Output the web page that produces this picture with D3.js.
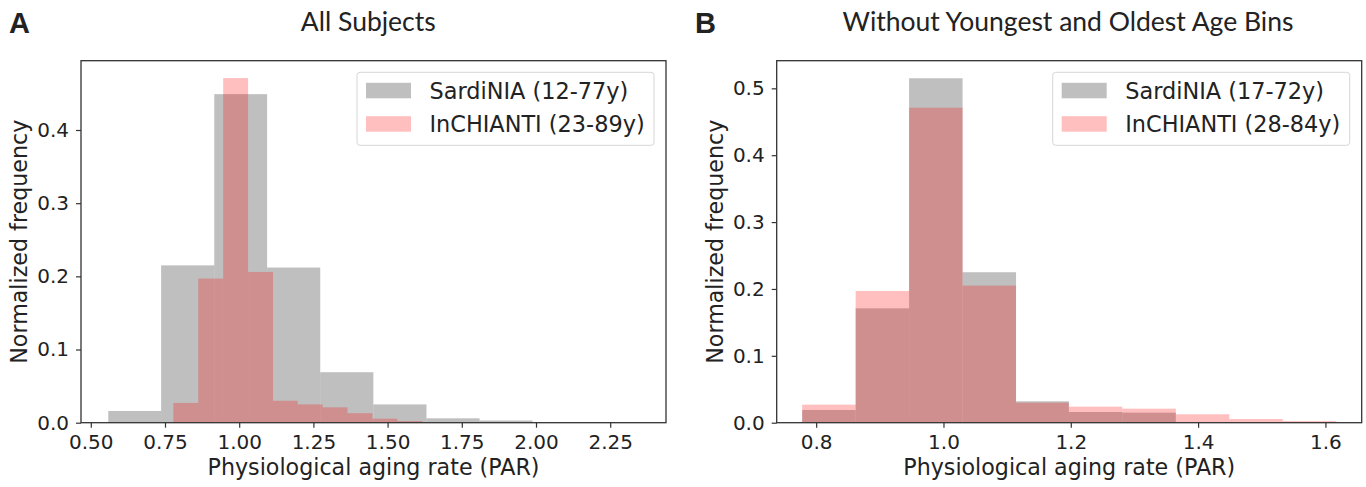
<!DOCTYPE html>
<html>
<head>
<meta charset="utf-8">
<script src="https://cdn.jsdelivr.net/npm/d3@7"></script>
<style>
  body { margin: 0; background: #fff; }
  svg text { font-family: "DejaVu Sans", sans-serif; fill: #222; }
  .tick line { stroke: #333; stroke-width: 1.2; }
  .tick text { font-size: 20px; }
  .axisText { font-size: 22.2px; }
  .legendText { font-size: 22.4px; }
  .title { font-family: Lato, sans-serif; font-size: 26.5px; }
  .panelLetter { font-family: "Liberation Sans", sans-serif; font-weight: bold; font-size: 29px; }
</style>
</head>
<body>
<div id="chart"></div>
<script>
var svgWidth = 1366;
var svgHeight = 487;

// bin edges
var sardEdgesA = [0.559, 0.737, 0.916, 1.094, 1.273, 1.452, 1.631, 1.810, 1.988, 2.167, 2.346];
var inchEdges = [0.778, 0.862, 0.946, 1.030, 1.114, 1.197, 1.281, 1.365, 1.449, 1.533, 1.617];

// normalized frequencies
var sardA = [0.016, 0.215, 0.449, 0.212, 0.069, 0.025, 0.006, 0.003, 0.0008, 0.0005];
var inchA = [0.027, 0.197, 0.471, 0.206, 0.030, 0.025, 0.021, 0.013, 0.0055, 0.0023];
var sardB = [0.019, 0.171, 0.515, 0.225, 0.032, 0.016, 0.015, 0, 0, 0];
var inchB = [0.027, 0.197, 0.471, 0.205, 0.030, 0.024, 0.021, 0.0126, 0.0055, 0.0025];

var xTicksA = [0.50, 0.75, 1.00, 1.25, 1.50, 1.75, 2.00, 2.25];
var yTicksA = [0.0, 0.1, 0.2, 0.3, 0.4];
var xTicksB = [0.8, 1.0, 1.2, 1.4, 1.6];
var yTicksB = [0.0, 0.1, 0.2, 0.3, 0.4, 0.5];

var legendA = ["SardiNIA (12-77y)", "InCHIANTI (23-89y)"];
var legendB = ["SardiNIA (17-72y)", "InCHIANTI (28-84y)"];

var svg = d3.select("#chart")
  .append("svg")
  .attr("width", svgWidth)
  .attr("height", svgHeight);

function drawPanel(p) {
  var width = p.width, height = p.height;
  var g = svg.append("g")
    .attr("transform", `translate(${p.left}, ${p.top})`);

  var x = d3.scaleLinear().domain(p.xDomain).range([0, width]);
  var y = d3.scaleLinear().domain(p.yDomain).range([height, 0]);

  // gray first, red on top
  var series = [
    {edges: p.sardEdges, vals: p.sard, fill: "#808080", op: 0.5},
    {edges: p.inchEdges, vals: p.inch, fill: "#ff0000", op: 0.25}
  ];
  series.forEach(function(s) {
    g.append("g").selectAll("rect")
      .data(s.vals)
      .enter()
      .append("rect")
      .attr("x", (d, i) => x(s.edges[i]))
      .attr("width", (d, i) => x(s.edges[i + 1]) - x(s.edges[i]))
      .attr("y", d => y(d))
      .attr("height", d => y(0) - y(d))
      .attr("fill", s.fill)
      .attr("fill-opacity", s.op);
  });

  var xAxis = d3.axisBottom(x).tickValues(p.xTicks).tickFormat(d3.format(p.xFmt))
    .tickSize(5).tickPadding(7);
  var yAxis = d3.axisLeft(y).tickValues(p.yTicks).tickFormat(d3.format(".1f"))
    .tickSize(5).tickPadding(7);

  g.append("g").attr("transform", `translate(0,${height})`).call(xAxis)
    .call(a => a.select(".domain").remove());
  g.append("g").call(yAxis)
    .call(a => a.select(".domain").remove());

  // frame
  g.append("rect")
    .attr("width", width).attr("height", height)
    .attr("fill", "none").attr("stroke", "#333").attr("stroke-width", 1.3);

  // legend
  var lw = 297, lh = 73;
  var lg = g.append("g").attr("transform", `translate(${width - 12 - lw}, 11.6)`);
  lg.append("rect")
    .attr("width", lw).attr("height", lh).attr("rx", 3)
    .attr("fill", "#fff").attr("fill-opacity", 0.8)
    .attr("stroke", "#d6d6d6").attr("stroke-width", 1);
  var legendColors = [
    {fill: "#808080", op: 0.5},
    {fill: "#ff0000", op: 0.25}
  ];
  p.legend.forEach(function(label, i) {
    lg.append("rect")
      .attr("x", 9).attr("y", 10.5 + i * 33.4)
      .attr("width", 45).attr("height", 15.5)
      .attr("fill", legendColors[i].fill).attr("fill-opacity", legendColors[i].op);
    lg.append("text")
      .attr("class", "legendText")
      .attr("x", 72.5).attr("y", 18.3 + i * 33.4)
      .attr("dy", "0.36em")
      .text(label);
  });

  // axes labels
  g.append("text")
    .attr("class", "axisText")
    .attr("text-anchor", "middle")
    .attr("transform", `translate(${width / 2}, ${height + 52.5})`)
    .text("Physiological aging rate (PAR)");
  g.append("text")
    .attr("class", "axisText")
    .attr("text-anchor", "middle")
    .attr("transform", `translate(-54, ${height / 2}) rotate(-90)`)
    .text("Normalized frequency");

  svg.append("text")
    .attr("class", "title")
    .attr("text-anchor", "middle")
    .attr("x", p.titleX).attr("y", 31)
    .text(p.title);
  svg.append("text")
    .attr("class", "panelLetter")
    .attr("x", p.letterX).attr("y", 33.3)
    .text(p.letter);
}

drawPanel({
  left: 81, top: 60.7, width: 585, height: 362,
  xDomain: [0.467, 2.438], yDomain: [0, 0.4947],
  sardEdges: sardEdgesA, inchEdges: inchEdges, sard: sardA, inch: inchA,
  xTicks: xTicksA, yTicks: yTicksA, xFmt: ".2f",
  legend: legendA, title: "All Subjects", titleX: 368.3, letter: "A", letterX: 9
});

drawPanel({
  left: 776.7, top: 60.7, width: 585, height: 362,
  xDomain: [0.738, 1.657], yDomain: [0, 0.5413],
  sardEdges: inchEdges, inchEdges: inchEdges, sard: sardB, inch: inchB,
  xTicks: xTicksB, yTicks: yTicksB, xFmt: ".1f",
  legend: legendB, title: "Without Youngest and Oldest Age Bins", titleX: 1068, letter: "B", letterX: 695
});
</script>
</body>
</html>
